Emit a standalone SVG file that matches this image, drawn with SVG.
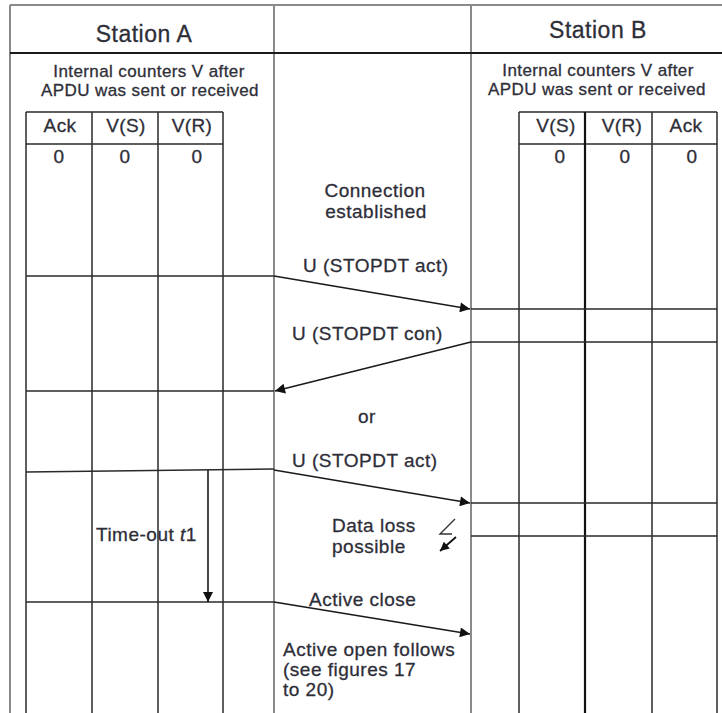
<svg xmlns="http://www.w3.org/2000/svg" width="722" height="713" viewBox="0 0 722 713">
<style>
text{font-family:"Liberation Sans",Arial,sans-serif;fill:#2e2e38;stroke:#2e2e38;stroke-width:0.3}
.st{font-size:23px;letter-spacing:0.5px;text-anchor:middle}
.ic{font-size:17px;letter-spacing:0.4px;text-anchor:middle}
.hd{font-size:19px;text-anchor:middle;letter-spacing:0.4px}
.lb{font-size:19px;letter-spacing:0.5px}
.c{text-anchor:middle}
.frame{stroke:#8a8a8a;stroke-width:2;fill:none}
.grid{stroke:#2a2a2a;stroke-width:1.5;fill:none}
.msg{stroke:#1a1a1a;stroke-width:1.6;fill:none;marker-end:url(#ah)}
</style>
<defs>
<marker id="ah" viewBox="0 0 10 10" refX="10" refY="5" markerWidth="11" markerHeight="10" orient="auto" markerUnits="userSpaceOnUse">
<path d="M0,0 L10,5 L0,10 z" fill="#111"/>
</marker>
<marker id="ahs" viewBox="0 0 10 10" refX="10" refY="5" markerWidth="10" markerHeight="9" orient="auto" markerUnits="userSpaceOnUse">
<path d="M0,0 L10,5 L0,10 z" fill="#111"/>
</marker>
</defs>
<rect width="722" height="713" fill="#fff"/>

<g id="frame">
<line class="frame" x1="10" y1="5" x2="722" y2="5"/>
<line class="frame" x1="10" y1="5" x2="10" y2="713"/>
<line class="frame" x1="274" y1="5" x2="274" y2="713"/>
<line class="frame" x1="471" y1="5" x2="471" y2="713"/>
<line x1="10" y1="53" x2="722" y2="53" stroke="#1a1a1a" stroke-width="2"/>
</g>

<g id="stationA">
<text class="st" x="144" y="42">Station A</text>
<text class="ic" x="149" y="77">Internal counters V after</text>
<text class="ic" x="150" y="96">APDU was sent or received</text>
<line class="grid" x1="26" y1="112" x2="223" y2="112"/>
<line class="grid" x1="26" y1="144" x2="223" y2="144"/>
<line class="grid" x1="26" y1="112" x2="26" y2="713"/>
<line class="grid" x1="92" y1="112" x2="92" y2="713"/>
<line class="grid" x1="158" y1="112" x2="158" y2="713"/>
<line class="grid" x1="223" y1="112" x2="223" y2="713"/>
<text class="hd" x="60" y="132">Ack</text>
<text class="hd" x="126" y="132">V(S)</text>
<text class="hd" x="192" y="132">V(R)</text>
<text class="hd" x="59" y="163">0</text>
<text class="hd" x="125" y="163">0</text>
<text class="hd" x="197" y="163">0</text>
<line class="grid" x1="26" y1="276" x2="274" y2="276"/>
<line class="grid" x1="26" y1="391" x2="274" y2="391"/>
<line class="grid" x1="26" y1="472" x2="274" y2="469"/>
<line class="grid" x1="26" y1="602" x2="274" y2="602"/>
</g>

<g id="stationB">
<text class="st" x="598" y="38">Station B</text>
<text class="ic" x="598" y="76">Internal counters V after</text>
<text class="ic" x="597" y="95">APDU was sent or received</text>
<line class="grid" x1="519" y1="112" x2="717" y2="112"/>
<line class="grid" x1="519" y1="144" x2="717" y2="144"/>
<line class="grid" x1="519" y1="112" x2="519" y2="713"/>
<line x1="585" y1="112" x2="585" y2="713" stroke="#111" stroke-width="2.2"/>
<line class="grid" x1="652" y1="112" x2="652" y2="713"/>
<line class="grid" x1="717" y1="112" x2="717" y2="713"/>
<text class="hd" x="556" y="132">V(S)</text>
<text class="hd" x="622" y="132">V(R)</text>
<text class="hd" x="686" y="132">Ack</text>
<text class="hd" x="560" y="163">0</text>
<text class="hd" x="625" y="163">0</text>
<text class="hd" x="692" y="163">0</text>
<line class="grid" x1="471" y1="309" x2="717" y2="309"/>
<line class="grid" x1="471" y1="342" x2="717" y2="342"/>
<line class="grid" x1="471" y1="503" x2="717" y2="503"/>
<line class="grid" x1="471" y1="536" x2="717" y2="536"/>
</g>

<g id="labels">
<text class="lb c" x="375" y="197">Connection</text>
<text class="lb c" x="376" y="218">established</text>
<text class="lb" x="303" y="272">U (STOPDT act)</text>
<text class="lb" x="292" y="340">U (STOPDT con)</text>
<text class="lb" x="358" y="423">or</text>
<text class="lb" x="292" y="467">U (STOPDT act)</text>
<text class="lb" x="332" y="532">Data loss</text>
<text class="lb" x="332" y="553">possible</text>
<text class="lb" x="96" y="541">Time-out <tspan font-style="italic">t</tspan>1</text>
<text class="lb" x="309" y="606">Active close</text>
<text class="lb" x="283" y="656">Active open follows</text>
<text class="lb" x="283" y="676">(see figures 17</text>
<text class="lb" x="283" y="696">to 20)</text>
</g>

<g id="connectors">
<line class="msg" x1="274" y1="276" x2="470" y2="309"/>
<line class="msg" x1="471" y1="342" x2="275" y2="391"/>
<line class="msg" x1="274" y1="470" x2="470" y2="503"/>
<line class="msg" x1="274" y1="602" x2="470" y2="634"/>
<line class="msg" x1="208" y1="470" x2="208" y2="602"/>
<polyline points="455,519 440,534 452,534" fill="none" stroke="#333" stroke-width="1.4"/>
<line x1="456" y1="537" x2="440" y2="551" stroke="#111" stroke-width="1.8" marker-end="url(#ahs)"/>
</g>
</svg>
